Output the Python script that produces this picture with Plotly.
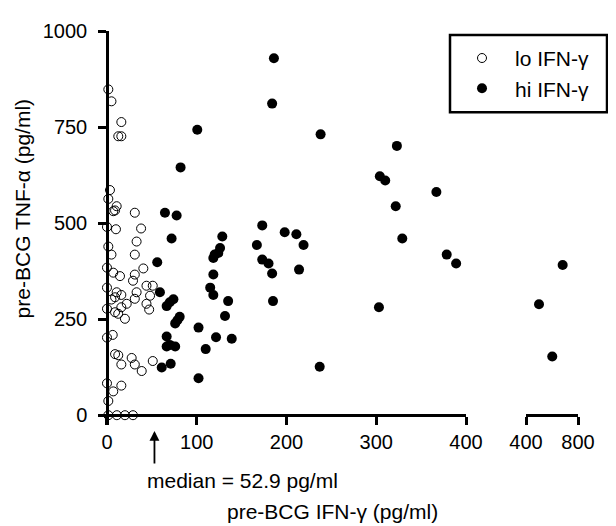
import plotly.graph_objects as go

# lo IFN-gamma group (open circles)
lo_x = [1.5, 5, 16, 12.6, 16, 3.3, 1.5, 10.8, 9, 31, 0, 10, 38, 33, 1.5, 5, 31, 0, 7, 14.5,
        40.5, 31, 29, 0, 44, 51, 33, 48, 31, 16, 9, 5, 22, 16, 44, 47, 0, 9, 12.5, 20,
        6.4, 0, 9, 12.6, 16, 27.5, 31, 38.7, 51, 0, 7, 16, 1.5, 1.5, 11, 20, 29, 10.8, 7]
lo_y = [848, 817, 763, 726, 726, 586, 563, 544, 533, 527, 490, 484, 486, 452, 439, 418, 418, 384, 371, 362,
        382, 366, 350, 332, 337, 337, 320, 311, 303, 313, 307, 301, 290, 281, 290, 275, 277, 268, 264, 251,
        209, 202, 159, 156, 132, 149, 132, 115, 141, 83, 62, 77, 37, 0, 0, 0, 0, 320, 531]

# hi IFN-gamma group (filled circles), 0-400 segment
hi_x = [186, 184, 100.6, 238, 323, 82, 304, 310, 367, 321.7, 329, 64.6, 77.6, 173, 198, 211, 219, 167,
        72, 128.5, 126, 124, 120, 118.5, 173, 180, 184, 185, 214, 56, 118.5, 115, 118.5, 135, 59, 74,
        70, 66.5, 81, 78.5, 76, 102, 131.5, 66.5, 70, 76, 66.5, 121.5, 139, 110, 71, 61, 102, 237, 303,
        378.5, 389]
hi_y = [929, 811, 743, 731, 701, 645, 622, 611, 581, 544, 460, 527, 520, 494, 476, 471, 443, 443,
        460, 465, 435, 422, 418, 409, 405, 395, 369, 297, 379, 398, 366, 332, 313, 297, 320, 302,
        294, 284, 256, 247, 239, 228, 258, 205, 183, 179, 179, 203, 199, 172, 134, 124, 96, 126, 281,
        418, 395]

# hi IFN-gamma group, 400-800 segment
hi2_x = [682, 500, 602]
hi2_y = [391, 289, 153]

y_ticks = [0, 250, 500, 750, 1000]
x1_ticks = [0, 100, 200, 300, 400]
x2_ticks = [400, 800]
median_val = 52.9

FONT = "Liberation Sans, Arial, sans-serif"
FS_TICK = 20
FS = 21
OFF = 8                       # page body margin
W, H = 616 - OFF, 526 - OFF
# plot area in window pixels
L_WIN, R_WIN, T_WIN, B_WIN = 98, 578, 23, 425
PW, PH = R_WIN - L_WIN, B_WIN - T_WIN

def pxx(px):
    return (px - L_WIN) / PW

def pyy(py):
    return (B_WIN - py) / PH

fig = go.Figure()
fig.add_trace(go.Scatter(
    x=lo_x, y=lo_y, mode="markers", name="lo IFN-γ",
    marker=dict(symbol="circle-open", size=9, color="black", line=dict(width=1, color="black")),
    xaxis="x", yaxis="y", cliponaxis=False, legendgroup="lo"))
fig.add_trace(go.Scatter(
    x=hi_x, y=hi_y, mode="markers", name="hi IFN-γ",
    marker=dict(symbol="circle", size=10, color="black"),
    xaxis="x", yaxis="y", cliponaxis=False, legendgroup="hi"))
fig.add_trace(go.Scatter(
    x=hi2_x, y=hi2_y, mode="markers", name="hi IFN-γ", showlegend=False,
    marker=dict(symbol="circle", size=10, color="black"),
    xaxis="x2", yaxis="y", cliponaxis=False, legendgroup="hi"))

x_pos = pyy(415)
axis_common = dict(showgrid=False, zeroline=False, showline=True, linecolor="black", linewidth=2.5,
                   ticks="outside", ticklen=8, tickwidth=2.5, tickcolor="black",
                   tickfont=dict(family=FONT, size=FS_TICK, color="black"))

fig.update_layout(
    width=W, height=H,
    margin=dict(l=L_WIN - OFF, r=W - (R_WIN - OFF), t=T_WIN - OFF, b=H - (B_WIN - OFF)),
    plot_bgcolor="white", paper_bgcolor="white",
    xaxis=dict(domain=[0, pxx(466)], range=[-10, 400], tickvals=x1_ticks,
               anchor="free", position=x_pos, **axis_common),
    xaxis2=dict(domain=[pxx(526), 1], range=[400, 800], tickvals=x2_ticks,
                anchor="free", position=x_pos, **axis_common),
    yaxis=dict(domain=[0, 1], range=[-25.5, 1000], tickvals=y_ticks,
               anchor="free", position=pxx(107), ticklabelstandoff=7, **axis_common),
    showlegend=True,
    legend=dict(x=pxx(449), y=pyy(30), xanchor="left", yanchor="top",
                bgcolor="rgba(0,0,0,0)", borderwidth=0, tracegroupgap=0, itemwidth=56,
                font=dict(family=FONT, size=FS, color="black")),
)

# legend frame
fig.add_shape(type="rect", xref="paper", yref="paper",
              x0=pxx(450), x1=pxx(607), y0=pyy(106), y1=pyy(27),
              line=dict(color="black", width=2.5))

# median arrow
fig.add_annotation(x=median_val, xref="x", y=pyy(431), yref="paper",
                   text="", showarrow=True, ax=0, ay=34, arrowhead=2, arrowsize=1.1,
                   arrowwidth=1.8, arrowcolor="black")
fig.add_annotation(x=pxx(145), y=pyy(482), xref="paper", yref="paper",
                   text="median = 52.9 pg/ml", showarrow=False, xanchor="left", yanchor="middle",
                   font=dict(family=FONT, size=FS, color="black"))
fig.add_annotation(x=pxx(332), y=pyy(513), xref="paper", yref="paper",
                   text="pre-BCG IFN-γ (pg/ml)", showarrow=False, xanchor="center", yanchor="middle",
                   font=dict(family=FONT, size=FS, color="black"))
fig.add_annotation(x=pxx(22), y=pyy(205), xref="paper", yref="paper",
                   text="pre-BCG TNF-α (pg/ml)", showarrow=False, textangle=-90,
                   xanchor="center", yanchor="middle",
                   font=dict(family=FONT, size=FS, color="black"))

fig.write_html("out.html")
